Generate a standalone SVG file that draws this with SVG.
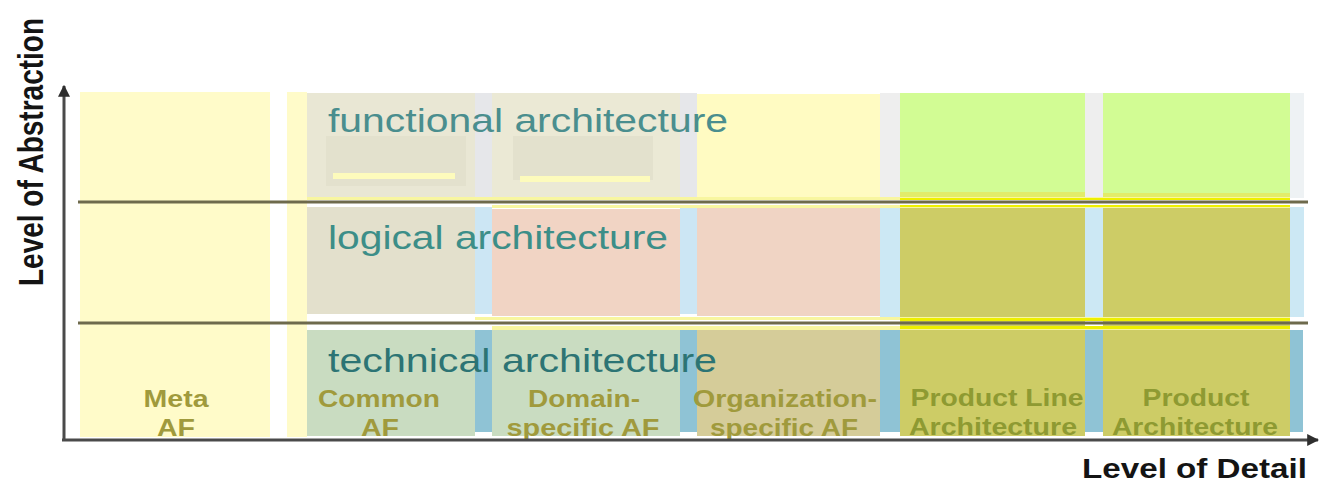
<svg xmlns="http://www.w3.org/2000/svg" width="1324" height="484" viewBox="0 0 1324 484">
  <defs>
    <marker id="arrow" viewBox="0 0 10 10" refX="9" refY="5" markerWidth="4" markerHeight="4" orient="auto" markerUnits="strokeWidth">
      <path d="M0,0 L10,5 L0,10 z" fill="#2e2e2e"/>
    </marker>
    <style>
      .axis { stroke: #4a4a4a; stroke-width: 3; fill: none; }
      .row-line { stroke: #6e6a4c; stroke-width: 3; }
      .band { font-family: "Liberation Sans", Arial, sans-serif; font-size: 34px; }
      .col { font-family: "Liberation Sans", Arial, sans-serif; font-size: 24px; font-weight: bold; fill: #a09a3c; text-anchor: middle; }
      .col-g { fill: #8e9a32; }
      .axis-label { font-family: "Liberation Sans", Arial, sans-serif; font-size: 28px; font-weight: bold; fill: #141414; }
      .hl { fill: #f8f6a0; }
      .stripe { fill: #fdfbbc; }
    </style>
  </defs>

  <rect width="1324" height="484" fill="#ffffff"/>

  <!-- Meta AF column -->
  <g id="meta-af">
    <rect x="80" y="92" width="190" height="345" fill="#fffbc9"/>
    <rect x="287" y="92" width="20" height="345" fill="#fffbc9"/>
    <text class="col" x="176" y="407" textLength="65" lengthAdjust="spacingAndGlyphs">Meta</text>
    <text class="col" x="176" y="436" textLength="38" lengthAdjust="spacingAndGlyphs">AF</text>
  </g>

  <!-- Common AF column -->
  <g id="common-af">
    <rect x="307" y="93" width="168" height="105" fill="#e9e7d4"/>
    <rect x="326" y="136" width="140" height="50" fill="#e3e1cd"/>
    <rect x="333" y="173" width="122" height="6" class="stripe"/>
    <rect x="307" y="207" width="168" height="107" fill="#e3e0cc"/>
    <rect x="307" y="330" width="168" height="106" fill="#c9dcc1"/>
    <text class="col" x="379" y="407" textLength="122" lengthAdjust="spacingAndGlyphs">Common</text>
    <text class="col" x="380" y="436" textLength="38" lengthAdjust="spacingAndGlyphs">AF</text>
  </g>

  <!-- Domain-specific AF column -->
  <g id="domain-af">
    <rect x="475" y="93" width="17" height="105" fill="#e6e7ea"/>
    <rect x="475" y="207" width="17" height="107" fill="#cce6f4"/>
    <rect x="475" y="330" width="17" height="102" fill="#8fc3d5"/>
    <rect x="492" y="93" width="188" height="105" fill="#ebe9d5"/>
    <rect x="513" y="136" width="140" height="44" fill="#e3e1cd"/>
    <rect x="520" y="176" width="130" height="6" class="stripe"/>
    <rect x="492" y="209" width="188" height="107" fill="#f1d4c4"/>
    <rect x="492" y="330" width="188" height="106" fill="#c9dcc1"/>
    <text class="col" x="584" y="407" textLength="112" lengthAdjust="spacingAndGlyphs">Domain-</text>
    <text class="col" x="583" y="436" textLength="153" lengthAdjust="spacingAndGlyphs">specific AF</text>
  </g>

  <!-- Organization-specific AF column -->
  <g id="organization-af">
    <rect x="680" y="93" width="17" height="105" fill="#e6e7ea"/>
    <rect x="680" y="207" width="17" height="107" fill="#cce6f4"/>
    <rect x="680" y="330" width="17" height="102" fill="#8fc3d5"/>
    <rect x="697" y="94" width="183" height="104" fill="#fffbc2"/>
    <rect x="697" y="207" width="183" height="109" fill="#f0d4c4"/>
    <rect x="697" y="330" width="183" height="106" fill="#d5cc99"/>
    <text class="col" x="785" y="407" textLength="184" lengthAdjust="spacingAndGlyphs">Organization-</text>
    <text class="col" x="784" y="436" textLength="148" lengthAdjust="spacingAndGlyphs">specific AF</text>
  </g>

  <!-- Product Line Architecture column -->
  <g id="product-line-architecture">
    <rect x="880" y="93" width="20" height="105" fill="#eeeeee"/>
    <rect x="880" y="207" width="20" height="110" fill="#cce8f4"/>
    <rect x="880" y="330" width="20" height="102" fill="#8fc3d5"/>
    <rect x="900" y="93" width="185" height="105" fill="#d2fc94"/>
    <rect x="900" y="192" width="185" height="7" fill="#e2ec6a"/>
    <rect x="900" y="205" width="185" height="231" fill="#cdcc66"/>
    <text class="col col-g" x="997" y="406" textLength="173" lengthAdjust="spacingAndGlyphs">Product Line</text>
    <text class="col col-g" x="993" y="435" textLength="168" lengthAdjust="spacingAndGlyphs">Architecture</text>
  </g>

  <!-- Product Architecture column -->
  <g id="product-architecture">
    <rect x="1085" y="93" width="18" height="105" fill="#eeeeee"/>
    <rect x="1085" y="207" width="18" height="110" fill="#cce8f4"/>
    <rect x="1085" y="330" width="18" height="102" fill="#8fc3d5"/>
    <rect x="1103" y="93" width="187" height="105" fill="#d2fc94"/>
    <rect x="1103" y="193" width="187" height="6" fill="#e2ec6a"/>
    <rect x="1103" y="205" width="187" height="231" fill="#cdcc66"/>
    <rect x="1290" y="93" width="14" height="105" fill="#eef2f4"/>
    <rect x="1290" y="207" width="14" height="110" fill="#cce8f4"/>
    <rect x="1290" y="330" width="13" height="102" fill="#8fc3d5"/>
    <text class="col col-g" x="1196" y="406" textLength="107" lengthAdjust="spacingAndGlyphs">Product</text>
    <text class="col col-g" x="1195" y="435" textLength="166" lengthAdjust="spacingAndGlyphs">Architecture</text>
  </g>

  <!-- yellow edging along the row boundaries -->
  <g id="row-edges">
    <rect x="307" y="197" width="983" height="3" class="hl"/>
    <rect x="492" y="205" width="798" height="3" class="hl"/>
    <rect x="475" y="317" width="815" height="3" class="hl"/>
    <rect x="492" y="326" width="798" height="4" class="hl"/>
    <rect x="900" y="318" width="390" height="3" fill="#eef000"/>
    <rect x="900" y="326" width="390" height="3" fill="#eef000"/>
    <rect x="900" y="198" width="390" height="2" fill="#eef000"/>
    <rect x="900" y="205" width="390" height="2" fill="#eef000"/>
  </g>

  <!-- abstraction layers -->
  <g id="layers">
    <line class="row-line" x1="78" y1="202" x2="1308" y2="202"/>
    <line class="row-line" x1="78" y1="323" x2="1308" y2="323"/>
    <text class="band" x="328" y="132" fill="#4a8e8e" textLength="400" lengthAdjust="spacingAndGlyphs">functional architecture</text>
    <text class="band" x="328" y="249" fill="#3c8e88" textLength="340" lengthAdjust="spacingAndGlyphs">logical architecture</text>
    <text class="band" x="328" y="372" fill="#2c7474" textLength="389" lengthAdjust="spacingAndGlyphs">technical architecture</text>
  </g>

  <!-- axes -->
  <g id="connectors">
    <path class="axis" d="M64,440 L64,86" marker-end="url(#arrow)"/>
    <path class="axis" d="M62,440 L1318,440" marker-end="url(#arrow)"/>
  </g>

  <g id="axis-labels">
    <text class="axis-label" transform="translate(43,152) scale(1.28,1) rotate(-90)" text-anchor="middle" font-size="29">Level of Abstraction</text>
    <text class="axis-label" x="1082" y="478" textLength="225" lengthAdjust="spacingAndGlyphs">Level of Detail</text>
  </g>
</svg>
